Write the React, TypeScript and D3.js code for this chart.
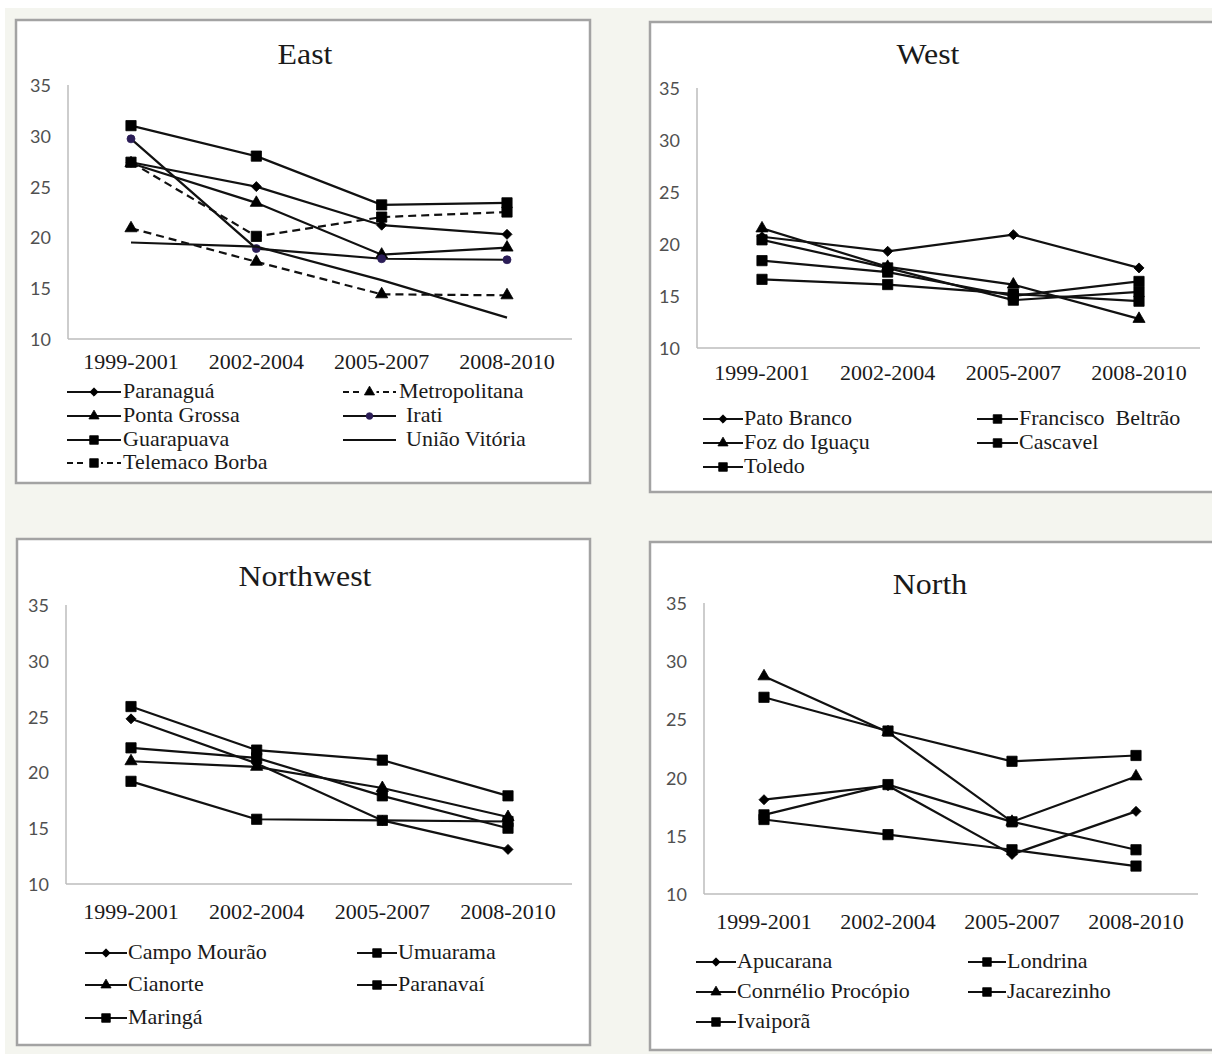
import React from 'react';
import * as d3 from 'd3';

// periods on the x axis, shared by every panel
const periods = ['1999-2001', '2002-2004', '2005-2007', '2008-2010'];
const yTicks = [10, 15, 20, 25, 30, 35];

// East
const paranagua = [27.4, 25.0, 21.2, 20.3];
const metropolitana = [20.9, 17.6, 14.4, 14.3];
const pontaGrossa = [27.3, 23.4, 18.3, 19.0];
const irati = [29.7, 18.9, 17.9, 17.8];
const guarapuava = [31.0, 28.0, 23.2, 23.4];
const uniaoVitoria = [19.5, 19.1, 15.8, 12.1];
const telemacoBorba = [27.4, 20.1, 22.0, 22.5];

// West
const patoBranco = [20.7, 19.3, 20.9, 17.7];
const franciscoBeltrao = [20.4, 17.7, 14.6, 15.4];
const fozDoIguacu = [21.5, 17.8, 16.1, 12.8];
const cascavel = [18.4, 17.3, 15.0, 16.4];
const toledo = [16.6, 16.1, 15.2, 14.5];

// Northwest
const campoMourao = [24.8, 20.8, 15.7, 13.1];
const umuarama = [25.9, 22.0, 21.1, 17.9];
const cianorte = [21.0, 20.5, 18.6, 16.0];
const paranavai = [22.2, 21.3, 17.9, 15.0];
const maringa = [19.2, 15.8, 15.7, 15.6];

// North
const apucarana = [18.1, 19.3, 13.4, 17.1];
const londrina = [26.9, 24.0, 21.4, 21.9];
const cornelioProcopio = [28.7, 23.9, 16.2, 20.1];
const jacarezinho = [16.8, 19.4, 16.2, 13.8];
const ivaipora = [16.4, 15.1, 13.8, 12.4];

type Marker = 'diamond' | 'square' | 'triangle' | 'circle' | 'none';
interface Series { name: string; values: number[]; marker: Marker; dashed?: boolean; markerFill?: string; gap?: number; }

const panels = [
  {
    title: 'East',
    box: [16, 20, 590, 483], titleX: 305, titleY: 64,
    axisX: 68, axisRight: 572, yTop: 85, yBottom: 339, xFirst: 131, xLast: 507, tickY: 363,
    legendRows: [392, 416, 440, 463],
    legendCols: [{ x0: 67, x1: 121, tx: 123 }, { x0: 343, x1: 396, tx: 399 }],
    series: [
      { name: 'Paranaguá', values: paranagua, marker: 'diamond' },
      { name: 'Metropolitana', values: metropolitana, marker: 'triangle', dashed: true },
      { name: 'Ponta Grossa', values: pontaGrossa, marker: 'triangle' },
      { name: 'Irati', values: irati, marker: 'circle', markerFill: '#2b1d57', gap: 7 },
      { name: 'Guarapuava', values: guarapuava, marker: 'square' },
      { name: 'União Vitória', values: uniaoVitoria, marker: 'none', gap: 7 },
      { name: 'Telemaco Borba', values: telemacoBorba, marker: 'square', dashed: true },
    ] as Series[],
  },
  {
    title: 'West',
    box: [650, 22, 1230, 492], titleX: 928, titleY: 64,
    axisX: 697, axisRight: 1200, yTop: 88, yBottom: 348, xFirst: 762, xLast: 1139, tickY: 374,
    legendRows: [419, 443, 467],
    legendCols: [{ x0: 703, x1: 743, tx: 744 }, { x0: 977, x1: 1018, tx: 1019 }],
    series: [
      { name: 'Pato Branco', values: patoBranco, marker: 'diamond' },
      { name: 'Francisco  Beltrão', values: franciscoBeltrao, marker: 'square' },
      { name: 'Foz do Iguaçu', values: fozDoIguacu, marker: 'triangle' },
      { name: 'Cascavel', values: cascavel, marker: 'square' },
      { name: 'Toledo', values: toledo, marker: 'square' },
    ] as Series[],
  },
  {
    title: 'Northwest',
    box: [17, 539, 590, 1045], titleX: 305, titleY: 586,
    axisX: 66, axisRight: 572, yTop: 605, yBottom: 884, xFirst: 131, xLast: 508, tickY: 913,
    legendRows: [953, 985, 1018],
    legendCols: [{ x0: 85, x1: 127, tx: 128 }, { x0: 357, x1: 397, tx: 398 }],
    series: [
      { name: 'Campo Mourão', values: campoMourao, marker: 'diamond' },
      { name: 'Umuarama', values: umuarama, marker: 'square' },
      { name: 'Cianorte', values: cianorte, marker: 'triangle' },
      { name: 'Paranavaí', values: paranavai, marker: 'square' },
      { name: 'Maringá', values: maringa, marker: 'square' },
    ] as Series[],
  },
  {
    title: 'North',
    box: [650, 542, 1230, 1050], titleX: 930, titleY: 594,
    axisX: 704, axisRight: 1198, yTop: 603, yBottom: 894, xFirst: 764, xLast: 1136, tickY: 923,
    legendRows: [962, 992, 1022],
    legendCols: [{ x0: 696, x1: 736, tx: 737 }, { x0: 968, x1: 1006, tx: 1007 }],
    series: [
      { name: 'Apucarana', values: apucarana, marker: 'diamond' },
      { name: 'Londrina', values: londrina, marker: 'square' },
      { name: 'Conrnélio Procópio', values: cornelioProcopio, marker: 'triangle' },
      { name: 'Jacarezinho', values: jacarezinho, marker: 'square' },
      { name: 'Ivaiporã', values: ivaipora, marker: 'square' },
    ] as Series[],
  },
];

const serif = "'Liberation Serif', 'Times New Roman', serif";

const SText = ({ x, y, size, anchor = 'start', children }: any) => (
  <text transform={`translate(${x},${y}) scale(1.1,1)`} textAnchor={anchor} fontSize={size}
    fontFamily={serif} fill="#1a1a1a" style={{ whiteSpace: 'pre' }}>{children}</text>
);

function markerPath(m: Marker, scale = 1) {
  if (m === 'none') return null;
  const type = m === 'circle' ? d3.symbolCircle : m === 'triangle' ? d3.symbolTriangle : d3.symbolSquare;
  const size = m === 'square' ? 105 : m === 'diamond' ? 50 : m === 'triangle' ? 64 : 50;
  return d3.symbol(type, size * scale)();
}

const Mark = ({ m, x, y, fill = '#000', scale = 1 }: any) => {
  const p = markerPath(m, scale);
  if (!p) return null;
  const rot = m === 'diamond' ? ' rotate(45)' : '';
  return <path d={p} transform={`translate(${x},${y})${rot}`} fill={fill} stroke={fill} strokeWidth={0.8} />;
};

const Panel = ({ p }: any) => {
  const y = d3.scaleLinear([10, 35], [p.yBottom, p.yTop]);
  const x = d3.scalePoint(periods, [p.xFirst, p.xLast]);
  const line = d3.line<number>().x((_, i) => x(periods[i]) as number).y(d => y(d));
  const [bx0, by0, bx1, by1] = p.box;
  return (
    <g>
      <rect x={bx0} y={by0} width={bx1 - bx0} height={by1 - by0} fill="#fff" stroke="#a3a3a3" strokeWidth={2.5} />
      <SText x={p.titleX} y={p.titleY} size={29} anchor="middle">{p.title}</SText>
      {/* axes */}
      <line x1={p.axisX} x2={p.axisX} y1={y(35)} y2={y(10)} stroke="#bdbdbd" strokeWidth={1.5} />
      <line x1={p.axisX} x2={p.axisRight} y1={y(10)} y2={y(10)} stroke="#bdbdbd" strokeWidth={1.5} />
      {yTicks.map(t => (
        <text key={t} x={p.axisX - 17} y={y(t)} textAnchor="end" dominantBaseline="central"
          fontFamily="Lato, 'Open Sans', sans-serif" fontSize={18} fill="#505050">{t}</text>
      ))}
      {periods.map(c => (
        <SText key={c} x={x(c)} y={p.tickY + 6} size={20} anchor="middle">{c}</SText>
      ))}
      {/* series */}
      {p.series.map((s: Series) => (
        <g key={s.name}>
          <path d={line(s.values) as string} fill="none" stroke="#111" strokeWidth={2.2}
            strokeDasharray={s.dashed ? '8,5' : undefined} />
          {s.values.map((v, i) => (
            <Mark key={i} m={s.marker} x={x(periods[i])} y={y(v)} fill={s.markerFill || '#000'} />
          ))}
        </g>
      ))}
      {/* legend */}
      {p.series.map((s: Series, i: number) => {
        const col = p.legendCols[i % 2];
        const ry = p.legendRows[Math.floor(i / 2)];
        const cx = (col.x0 + col.x1) / 2;
        return (
          <g key={'lg' + s.name}>
            <line x1={col.x0} x2={col.x1} y1={ry} y2={ry} stroke="#111" strokeWidth={2.2}
              strokeDasharray={s.dashed ? '6,4' : undefined} />
            {s.dashed && <rect x={cx - 7} y={ry - 3} width={14} height={6} fill="#fff" />}
            <Mark m={s.marker} x={cx} y={ry} fill={s.markerFill || '#000'} scale={0.7} />
            <SText x={col.tx + (s.gap || 0)} y={ry + 6} size={20}>{s.name}</SText>
          </g>
        );
      })}
    </g>
  );
};

export default function App() {
  return (
    <div style={{ position: 'absolute', left: 0, top: 0 }}>
      <svg width={1212} height={1054} viewBox="0 0 1212 1054" style={{ display: 'block' }}>
        <rect x={0} y={0} width={1212} height={1054} fill="#fff" />
        <rect x={5} y={8} width={1207} height={1046} fill="#f4f5ef" />
        {panels.map(p => <Panel key={p.title} p={p} />)}
      </svg>
    </div>
  );
}
